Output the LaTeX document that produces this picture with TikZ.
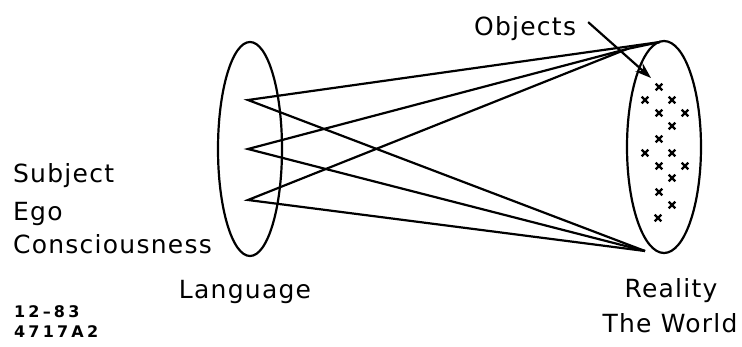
\documentclass[tikz,border=0pt]{standalone}
\usepackage{fontspec}
\usepackage{tikz}
\usetikzlibrary{arrows.meta}
\newfontfamily\lblfont{DejaVu Sans}[LetterSpace=5]
\newfontfamily\codefont{DejaVu Sans}[LetterSpace=20]

\begin{document}
\begin{tikzpicture}[x=1pt,y=-1pt,line width=2.2pt,
  lbl/.style={inner sep=0pt,font=\lblfont\fontsize{25}{30}\selectfont},
  code/.style={inner sep=0pt,font=\codefont\bfseries\fontsize{16}{18}\selectfont}]
\useasboundingbox (0,0) rectangle (742,346);
% the two sets
\draw (250,149) ellipse [x radius=32,y radius=107];
\draw (664,147) ellipse [x radius=37,y radius=106];
% words and things
\coordinate (top) at (627,49);
\coordinate (rim) at (660,42);
\coordinate (bot) at (645,251);
\foreach \n/\y in {1/100, 2/149, 3/200} {
  \coordinate (p\n) at (248,\y);
}
\draw (rim) -- (p1) -- (bot);
\draw (top) -- (p2) -- (bot);
\draw (top) -- (p3) -- (bot);
\draw (top) -- (rim);
% objects
\foreach \x/\y in {659/87, 645/100, 672/100, 659/113, 685/113, 672/126, 659/139,
  645/153, 672/153, 659/166, 685/166, 672/178, 659/192, 672/205, 658/218} {
  \draw[line width=2.2pt] (\x-3.3,\y-3.3) -- (\x+3.3,\y+3.3) (\x-3.3,\y+3.3) -- (\x+3.3,\y-3.3);
}
\node[lbl,anchor=base west] (obj) at (473,35) {Objects};
\coordinate (tip) at (651,78);
\draw[-{Stealth[length=16pt,width=11pt]}] ([xshift=11pt,yshift=6pt]obj.east) -- (tip);
% labels
\node[lbl,anchor=base west] (subj) at (12,182) {Subject};
\node[lbl,anchor=base west] (ego) at (12,220) {Ego};
\node[lbl,anchor=base west] (cons) at (12,253) {Consciousness};
\node[lbl,anchor=base] (lang) at (245,298) {Language};
\node[lbl,anchor=base] (real) at (671,297) {Reality};
\node[lbl,anchor=base] (world) at (670,332) {The World};
\node[code,anchor=base west] (date) at (13,317) {12–83};
\node[code,anchor=base west] (num) at (13,337) {4717A2};
\end{tikzpicture}
\end{document}
